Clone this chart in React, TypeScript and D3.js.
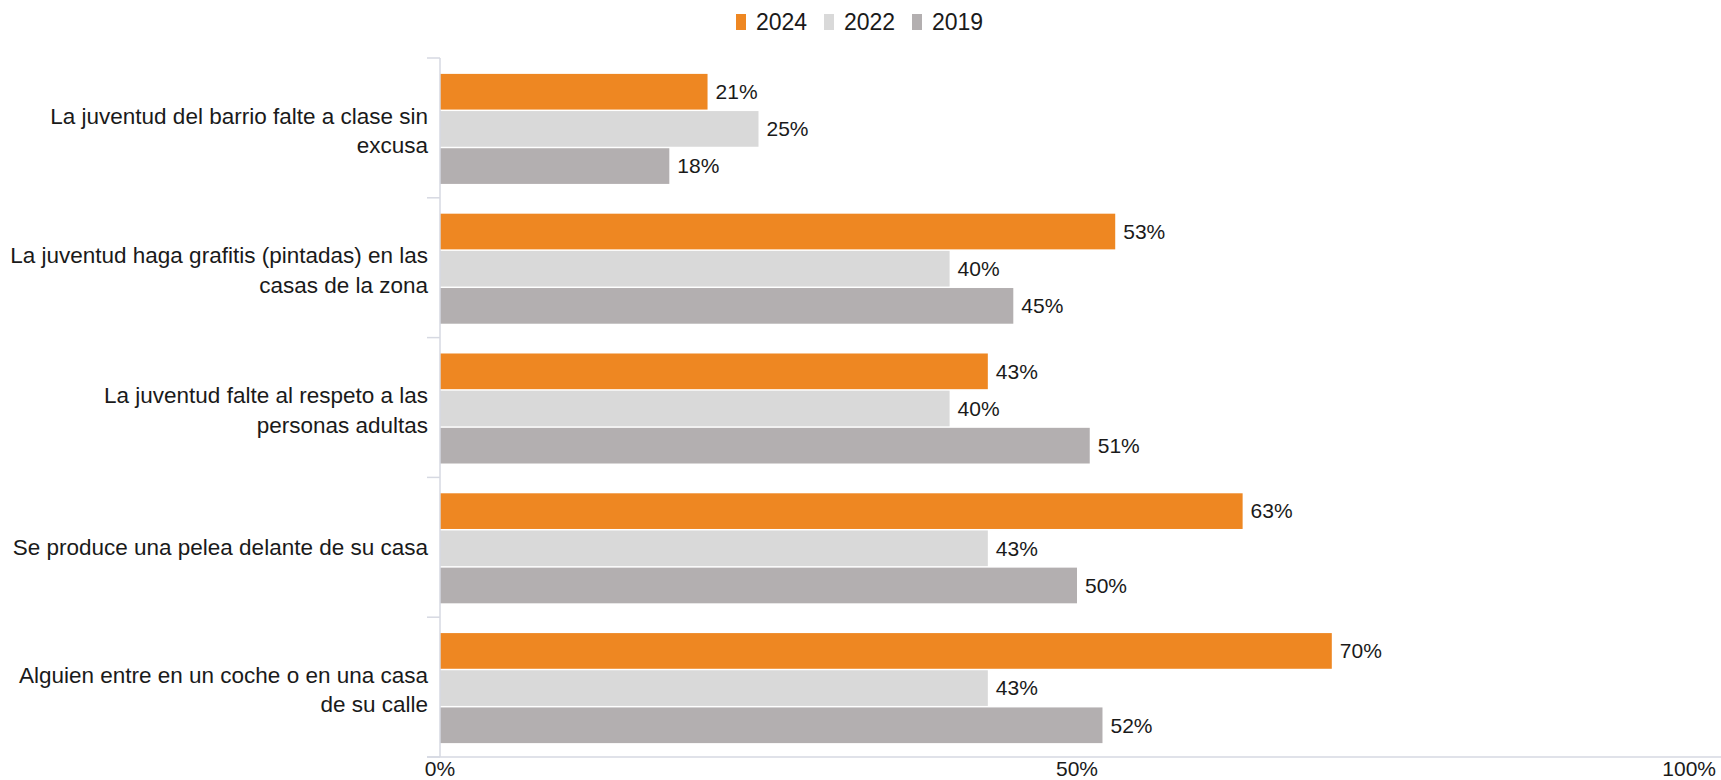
import React from "react";
import * as d3 from "d3";

const categories: string[][] = [
  ["La juventud del barrio falte a clase sin", "excusa"],
  ["La juventud haga grafitis (pintadas) en las", "casas de la zona"],
  ["La juventud falte al respeto a las", "personas adultas"],
  ["Se produce una pelea delante de su casa"],
  ["Alguien entre en un coche o en una casa", "de su calle"],
];
const seriesKeys = ["2024", "2022", "2019"];
const values2024 = [0.21, 0.53, 0.43, 0.63, 0.70];
const values2022 = [0.25, 0.40, 0.40, 0.43, 0.43];
const values2019 = [0.18, 0.45, 0.51, 0.50, 0.52];
const xTicks = [0, 0.5, 1];

const colors: Record<string, string> = {
  "2024": "#EE8722",
  "2022": "#D9D9D9",
  "2019": "#B3AFB0",
};

export default function App() {
  const W = 1721;
  const H = 780;
  const x = d3.scaleLinear().domain([0, 1]).range([440, 1714]);
  const catIdx = categories.map((_, i) => String(i));
  const y = d3
    .scaleBand<string>()
    .domain(catIdx)
    .range([58, 757])
    .paddingInner(0.213)
    .paddingOuter(0.1065);
  const yInner = d3
    .scaleBand<string>()
    .domain(seriesKeys)
    .range([0, y.bandwidth()])
    .paddingInner(0.04);
  const step = (757 - 58) / categories.length;
  const series: Record<string, number[]> = {
    "2024": values2024,
    "2022": values2022,
    "2019": values2019,
  };
  const pct = d3.format(".0%");
  const font = "'Liberation Sans', Arial, sans-serif";
  const textColor = "#1a1a1a";
  const axisColor = "#D6D9E2";

  return (
    <svg
      width={W}
      height={H}
      style={{ position: "absolute", left: 0, top: 0, background: "#fff" }}
      fontFamily={font}
    >
      {/* legend */}
      {seriesKeys.map((k, i) => (
        <g key={k} transform={`translate(${736 + i * 88},0)`}>
          <rect x={0} y={14} width={10} height={16} fill={colors[k]} />
          <text x={20} y={30} fontSize={23} fill={textColor}>
            {k}
          </text>
        </g>
      ))}

      {/* bars */}
      {catIdx.map((c, ci) => (
        <g key={c} transform={`translate(0,${(y(c) as number) + 1})`}>
          {seriesKeys.map((k) => {
            const v = series[k][ci];
            const yy = yInner(k)!;
            return (
              <g key={k}>
                <rect
                  x={x(0)}
                  y={yy}
                  width={x(v) - x(0)}
                  height={yInner.bandwidth()}
                  fill={colors[k]}
                />
                <text
                  x={x(v) + 8}
                  y={yy + yInner.bandwidth() / 2}
                  dy="0.35em"
                  fontSize={21}
                  fill={textColor}
                >
                  {pct(v)}
                </text>
              </g>
            );
          })}
        </g>
      ))}

      {/* category labels */}
      {categories.map((lines, ci) => {
        const cy = 58 + step * (ci + 0.5);
        const lh = 29.5;
        const off = lines.length > 1 ? 10.5 : 8;
        const start = cy - ((lines.length - 1) * lh) / 2 + off;
        return (
          <text key={ci} textAnchor="end" fontSize={22.5} fill={textColor}>
            {lines.map((l, li) => (
              <tspan key={li} x={428} y={start + li * lh}>
                {l}
              </tspan>
            ))}
          </text>
        );
      })}

      {/* y axis */}
      <line x1={440} x2={440} y1={58} y2={757} stroke={axisColor} strokeWidth={1.5} />
      {d3.range(categories.length + 1).map((i) => (
        <line
          key={i}
          x1={427}
          x2={440}
          y1={58 + step * i}
          y2={58 + step * i}
          stroke={axisColor}
          strokeWidth={1.5}
        />
      ))}
      {/* x axis */}
      <line x1={427} x2={W} y1={757} y2={757} stroke={axisColor} strokeWidth={1.5} />
      {xTicks.map((t, i) => (
        <text
          key={t}
          x={i === xTicks.length - 1 ? 1716 : x(t)}
          y={776}
          textAnchor={i === xTicks.length - 1 ? "end" : "middle"}
          fontSize={21}
          fill={textColor}
        >
          {pct(t)}
        </text>
      ))}
    </svg>
  );
}
